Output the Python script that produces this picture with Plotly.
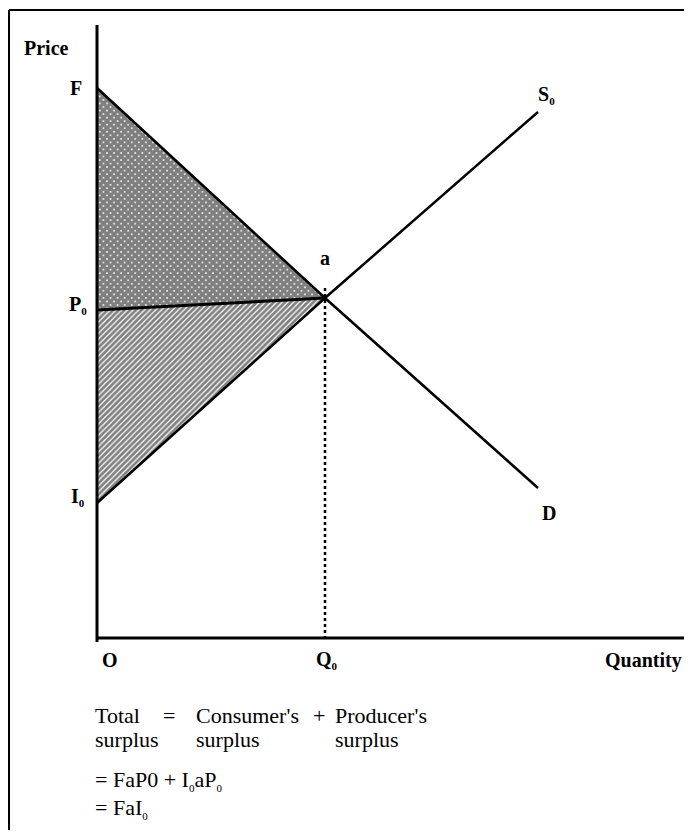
"""Consumer and producer surplus diagram (textbook style, black and white)."""

import plotly.graph_objects as go

# Diagram values, in quantity / price units measured from the origin O
F_PRICE = 550
P0_AT_AXIS = 328
I0_PRICE = 135
A_POINT = (228, 340)          # equilibrium point a = (Q0, P0)
DEMAND_END = (441, 150)
SUPPLY_END = (441, 526)

demand_x = [0, A_POINT[0], DEMAND_END[0]]
demand_y = [F_PRICE, A_POINT[1], DEMAND_END[1]]
supply_x = [0, A_POINT[0], SUPPLY_END[0]]
supply_y = [I0_PRICE, A_POINT[1], SUPPLY_END[1]]

consumer_x = [0, A_POINT[0], 0, 0]
consumer_y = [F_PRICE, A_POINT[1], P0_AT_AXIS, F_PRICE]
producer_x = [0, A_POINT[0], 0, 0]
producer_y = [P0_AT_AXIS, A_POINT[1], I0_PRICE, P0_AT_AXIS]

X_AXIS_END = 600
Y_AXIS_TOP = 613

# page body keeps an 8px margin, so the figure is 16px smaller than the window
_W, _H = 676, 822
_SERIF = "Liberation Serif"
_INK = "#000000"

fig = go.Figure()

# Surplus areas
fig.add_trace(go.Scatter(
    x=consumer_x, y=consumer_y, mode="none", fill="toself",
    fillcolor="white",
    fillpattern={"shape": "x", "fgcolor": "#000000", "bgcolor": "#ffffff",
                 "size": 5, "solidity": 0.9},
    hoverinfo="skip",
))
fig.add_trace(go.Scatter(
    x=producer_x, y=producer_y, mode="none", fill="toself",
    fillcolor="white",
    fillpattern={"shape": "/", "fgcolor": "#000000", "bgcolor": "#ffffff",
                 "size": 4, "solidity": 0.7},
    hoverinfo="skip",
))

# P0 line, demand, supply
fig.add_trace(go.Scatter(
    x=[0, A_POINT[0]], y=[P0_AT_AXIS, A_POINT[1]], mode="lines",
    line={"color": _INK, "width": 3}, hoverinfo="skip",
))
fig.add_trace(go.Scatter(
    x=demand_x, y=demand_y, mode="lines",
    line={"color": _INK, "width": 2.5}, hoverinfo="skip",
))
fig.add_trace(go.Scatter(
    x=supply_x, y=supply_y, mode="lines",
    line={"color": _INK, "width": 2.5}, hoverinfo="skip",
))

# Dotted drop line from a to Q0
fig.add_trace(go.Scatter(
    x=[A_POINT[0], A_POINT[0]], y=[A_POINT[1] + 10, 0], mode="lines",
    line={"color": _INK, "width": 2.5, "dash": "dot"}, hoverinfo="skip",
))

# Axes
fig.add_trace(go.Scatter(
    x=[0, 0], y=[Y_AXIS_TOP, -4], mode="lines",
    line={"color": _INK, "width": 3}, hoverinfo="skip",
))
fig.add_trace(go.Scatter(
    x=[0, X_AXIS_END], y=[0, 0], mode="lines",
    line={"color": _INK, "width": 3}, hoverinfo="skip",
))

SUB0 = "<sub><span style='font-size:11px'>0</span></sub>"
bold = {"family": _SERIF, "size": 20, "color": _INK, "weight": "bold"}
plain = {"family": _SERIF, "size": 22, "color": _INK}

labels = [
    ("Price", -51, 590, "center"),
    ("F", -21, F_PRICE, "center"),
    ("P" + SUB0, -19, P0_AT_AXIS + 5, "center"),
    ("I" + SUB0, -19, I0_PRICE + 6, "center"),
    ("a", A_POINT[0], A_POINT[1] + 40, "center"),
    ("S" + SUB0, SUPPLY_END[0] + 8, SUPPLY_END[1] + 17, "center"),
    ("D", SUPPLY_END[0] + 11, 125, "center"),
    ("O", 13, -22, "center"),
    ("Q" + SUB0, A_POINT[0] + 2, -22, "center"),
    ("Quantity", 587, -22, "right"),
]
for text, x, y, anchor in labels:
    fig.add_annotation(x=x, y=y, text=text, showarrow=False, font=bold,
                       xanchor=anchor, yanchor="middle")

notes = [
    ("Total", -4, -77),
    ("=", 64, -77),
    ("Consumer's", 97, -77),
    ("+", 214, -77),
    ("Producer's", 236, -77),
    ("surplus", -4, -101),
    ("surplus", 97, -101),
    ("surplus", 236, -101),
    ("= FaP0 + I" + SUB0 + "aP" + SUB0, -4, -142),
    ("= FaI" + SUB0, -4, -170),
]
for text, x, y in notes:
    fig.add_annotation(x=x, y=y, text=text, showarrow=False, font=plain,
                       xanchor="left", yanchor="middle")

# Frame lines along the top and left edges
fig.add_shape(type="line", xref="paper", yref="paper",
              x0=1 / _W, x1=1, y0=1 - 2 / _H, y1=1 - 2 / _H,
              line={"color": _INK, "width": 2})
fig.add_shape(type="line", xref="paper", yref="paper",
              x0=1 / _W, x1=1 / _W, y0=0, y1=1 - 2 / _H,
              line={"color": _INK, "width": 2})

fig.update_layout(
    width=_W, height=_H,
    paper_bgcolor="white", plot_bgcolor="white",
    margin={"l": 0, "r": 0, "t": 0, "b": 0},
    showlegend=False,
    xaxis={"range": [-89, 587], "visible": False, "fixedrange": True},
    yaxis={"range": [-192, 630], "visible": False, "fixedrange": True},
)

fig.write_html("out.html")
